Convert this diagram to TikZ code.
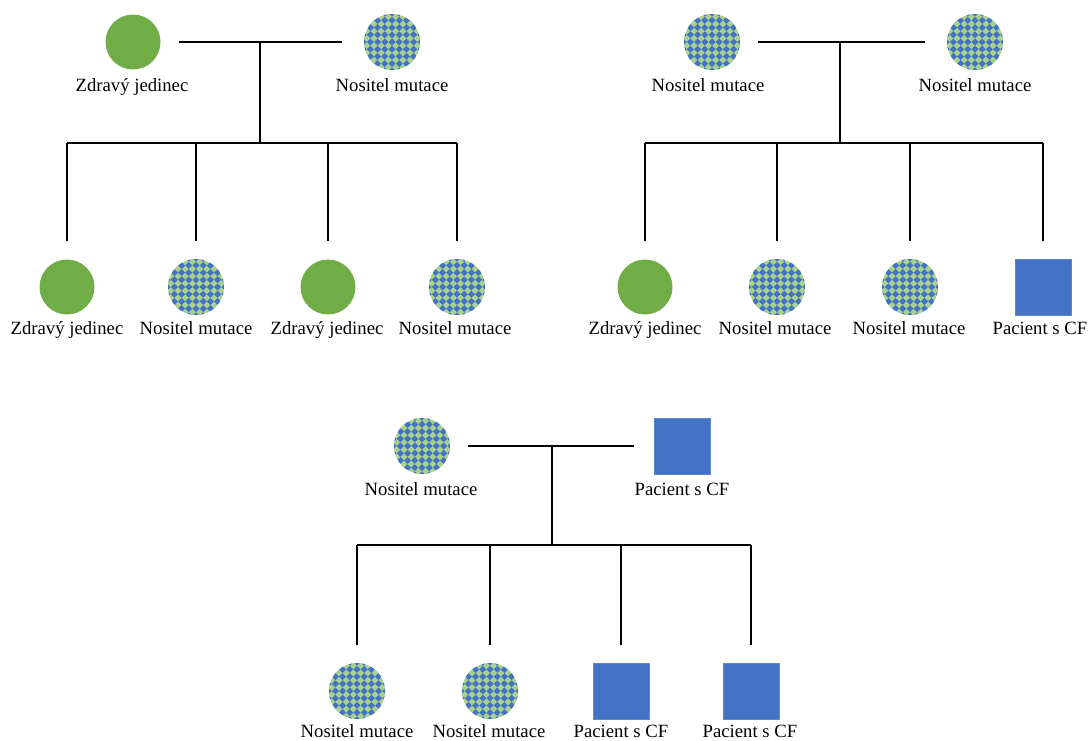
\documentclass[tikz,border=0pt]{standalone}
\usepackage{fontspec}
\setmainfont{Liberation Serif}
\definecolor{cfgreen}{HTML}{70AD47}
\definecolor{cflight}{HTML}{A9D18E}
\definecolor{cfblue}{HTML}{4472C4}
\begin{document}
\begin{tikzpicture}[x=1pt,y=-1pt,
  healthy/.style={circle,fill=cfgreen,minimum size=55pt,inner sep=0pt},
  carrier/.style={circle,fill=cflight,minimum size=56pt,inner sep=0pt,
    path picture={\begin{scope}[shift={(path picture bounding box.center)}]
      \foreach \i in {-4,...,4}{\foreach \j in {-4,...,4}{
        \fill[cfblue] (\i*7.2,\j*7.2) +(3.5,0) -- +(0,3.5) -- +(-3.5,0) -- +(0,-3.5) -- cycle;}}
      \end{scope}}},
  patient/.style={rectangle,fill=cfblue,draw=cfblue!85!white,line width=0.6pt,minimum size=56pt,inner sep=0pt},
  lbl/.style={font=\fontsize{18.7}{22}\selectfont,inner sep=0pt,anchor=base},
  ln/.style={line width=1.7pt,black}]
\useasboundingbox (0,0) rectangle (1089,740);

% ---------- Panel 1 ----------
\node[healthy] (a1) at (133,42) {};
\node[carrier] (a2) at (392,42) {};
\node[lbl] (a1l) at (132,91) {Zdravý jedinec};
\node[lbl] (a2l) at (392,91) {Nositel mutace};
\coordinate (am) at (260,42);
\coordinate (as) at (260,143);
\draw[ln] ([xshift=18pt]a1.east) -- ([xshift=-22pt]a2.west);
\draw[ln] (am) -- (as);
\node[healthy] (ac1) at (67,287) {};
\node[carrier] (ac2) at (196,287) {};
\node[healthy] (ac3) at (328,287) {};
\node[carrier] (ac4) at (457,287) {};
\node[lbl] (ac1l) at (67,334) {Zdravý jedinec};
\node[lbl] (ac2l) at (196,334) {Nositel mutace};
\node[lbl] (ac3l) at (327,334) {Zdravý jedinec};
\node[lbl] (ac4l) at (455,334) {Nositel mutace};
\draw[ln] (ac1 |- as) -- (ac4 |- as);
\foreach \c in {ac1,ac2,ac3,ac4}{\draw[ln] (\c |- as) -- (\c |- 0,241);}

% ---------- Panel 2 ----------
\node[carrier] (b1) at (712,42) {};
\node[carrier] (b2) at (975,42) {};
\node[lbl] (b1l) at (708,91) {Nositel mutace};
\node[lbl] (b2l) at (975,91) {Nositel mutace};
\coordinate (bm) at (840,42);
\coordinate (bs) at (840,143);
\draw[ln] ([xshift=18pt]b1.east) -- ([xshift=-22pt]b2.west);
\draw[ln] (bm) -- (bs);
\node[healthy] (bc1) at (645,287) {};
\node[carrier] (bc2) at (777,287) {};
\node[carrier] (bc3) at (910,287) {};
\node[patient] (bc4) at (1043,287) {};
\node[lbl] (bc1l) at (645,334) {Zdravý jedinec};
\node[lbl] (bc2l) at (775,334) {Nositel mutace};
\node[lbl] (bc3l) at (909,334) {Nositel mutace};
\node[lbl] (bc4l) at (1040,334) {Pacient s CF};
\draw[ln] (bc1 |- bs) -- (bc4 |- bs);
\foreach \c in {bc1,bc2,bc3,bc4}{\draw[ln] (\c |- bs) -- (\c |- 0,241);}

% ---------- Panel 3 ----------
\node[carrier] (c1) at (422,446) {};
\node[patient] (c2) at (682,446) {};
\node[lbl] (c1l) at (421,495) {Nositel mutace};
\node[lbl] (c2l) at (682,495) {Pacient s CF};
\coordinate (cm) at (552,446);
\coordinate (cs) at (552,545);
\draw[ln] ([xshift=18pt]c1.east) -- ([xshift=-20pt]c2.west);
\draw[ln] (cm) -- (cs);
\node[carrier] (cc1) at (357,691) {};
\node[carrier] (cc2) at (490,691) {};
\node[patient] (cc3) at (621,691) {};
\node[patient] (cc4) at (751,691) {};
\node[lbl] (cc1l) at (357,737) {Nositel mutace};
\node[lbl] (cc2l) at (489,737) {Nositel mutace};
\node[lbl] (cc3l) at (621,737) {Pacient s CF};
\node[lbl] (cc4l) at (750,737) {Pacient s CF};
\draw[ln] (cc1 |- cs) -- (cc4 |- cs);
\foreach \c in {cc1,cc2,cc3,cc4}{\draw[ln] (\c |- cs) -- (\c |- 0,645);}
\end{tikzpicture}
\end{document}
